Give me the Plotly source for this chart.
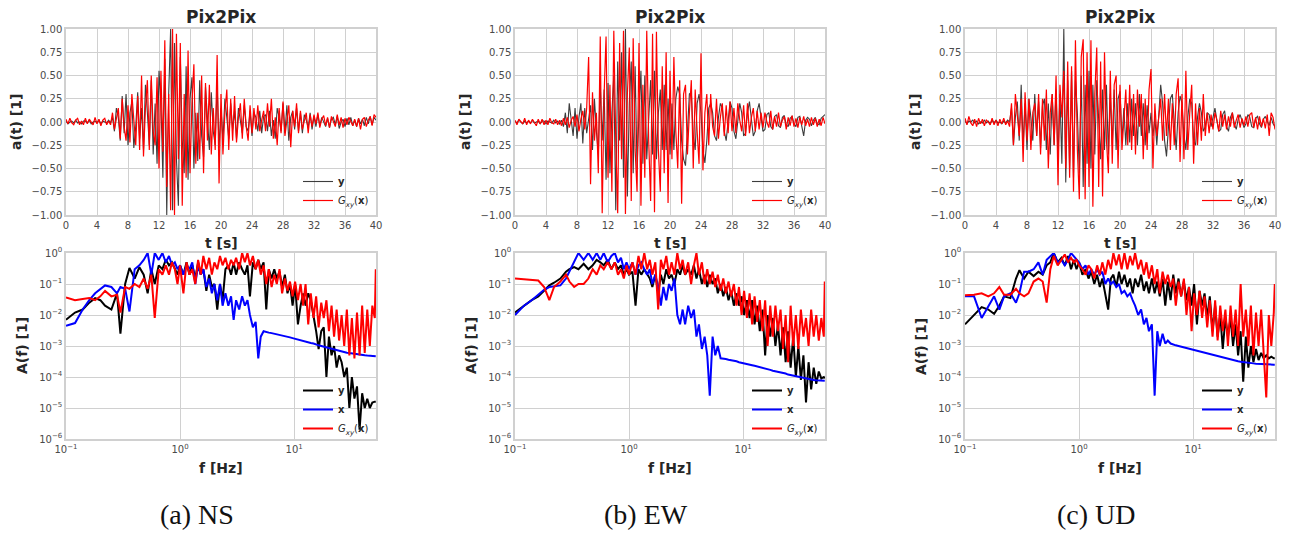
import numpy as np
import plotly.graph_objects as go

# ---------------------------------------------------------------------------
# Acceleration records, sampled every DT seconds over 0..40 s (normalised)
# ---------------------------------------------------------------------------
DT = 0.25

NS_Y = [0.01, -0.02, 0.00, 0.01, -0.01, 0.02, -0.01, 0.00,
        -0.02, 0.01, 0.01, -0.01, 0.02, -0.02, 0.00, 0.01,
        -0.01, 0.02, -0.02, 0.01, 0.00, -0.01, 0.02, -0.01,
        0.05, -0.10, 0.15, 0.05, -0.20, 0.28, -0.12, 0.30,
        -0.25, 0.10, 0.22, -0.28, -0.05, 0.32, -0.18, 0.15,
        -0.30, 0.40, 0.10, -0.25, 0.45, -0.35, 0.20, -0.45,
        0.55, 0.20, -0.60, 0.68, -1.00, 0.30, 1.00, -0.95,
        0.85, -0.40, -0.90, 0.70, -0.20, -0.55, 0.60, -0.62,
        0.25, 0.48, -0.50, 0.10, -0.42, 0.45, -0.15, -0.38,
        0.38, 0.05, -0.30, 0.32, -0.10, -0.25, 0.40, -0.28,
        0.15, -0.20, 0.25, 0.05, -0.18, 0.20, -0.08, 0.12,
        -0.18, 0.15, 0.02, -0.12, 0.18, -0.05, -0.10, 0.12,
        -0.15, 0.10, 0.05, -0.10, 0.12, -0.12, 0.06, 0.08,
        -0.10, 0.12, -0.15, 0.02, -0.18, 0.15, 0.05, -0.10,
        0.20, -0.12, 0.18, -0.20, 0.05, 0.12, -0.08, 0.15,
        -0.10, 0.10, -0.12, 0.08, 0.02, -0.06, 0.10, -0.08,
        0.06, -0.05, 0.08, -0.04, 0.05, 0.00, -0.05, 0.04,
        -0.06, 0.03, 0.05, -0.03, 0.06, -0.07, 0.00, 0.03,
        -0.05, 0.04, -0.03, 0.05, -0.04, 0.02, -0.05, 0.04,
        -0.02, 0.03, -0.04, 0.05, -0.02, 0.06, -0.03, 0.05,
        0.02]

NS_G = [0.03, -0.02, 0.04, -0.01, -0.03, 0.02, 0.04, -0.03,
        0.01, -0.03, 0.04, -0.02, 0.03, 0.00, -0.03, 0.05,
        -0.02, 0.03, -0.04, 0.02, 0.04, -0.03, 0.01, -0.03,
        0.10, -0.08, 0.02, 0.15, -0.18, 0.25, -0.05, -0.20,
        0.18, -0.22, 0.30, 0.05, -0.25, 0.28, -0.30, 0.50,
        -0.37, 0.15, 0.45, -0.30, 0.50, -0.10, -0.25, 0.48,
        -0.50, 0.55, -0.32, 0.88, -0.70, 0.30, -0.95, 1.00,
        -1.00, 0.95, -0.40, 0.85, -0.90, 0.30, -0.60, 0.77,
        -0.55, 0.20, 0.62, -0.45, 0.10, -0.40, 0.50, -0.55,
        0.42, -0.20, 0.40, -0.35, 0.15, -0.30, 0.72, -0.66,
        0.30, -0.35, 0.10, 0.35, -0.30, 0.25, -0.20, 0.28,
        -0.22, 0.05, 0.20, -0.18, 0.25, -0.05, -0.20, 0.18,
        -0.12, 0.15, -0.08, 0.18, -0.10, 0.02, 0.12, -0.10,
        0.20, -0.05, 0.25, -0.18, 0.05, -0.25, 0.15, -0.12,
        0.22, -0.15, 0.05, 0.18, -0.27, 0.12, -0.05, 0.20,
        -0.12, 0.12, -0.08, 0.02, 0.10, -0.12, 0.08, -0.05,
        0.08, -0.02, 0.10, -0.06, 0.03, 0.07, -0.04, 0.05,
        -0.06, 0.06, 0.01, -0.05, 0.08, -0.03, 0.05, -0.06,
        0.04, -0.03, 0.05, 0.00, -0.04, 0.03, -0.05, 0.04,
        -0.08, 0.03, 0.05, -0.05, 0.02, 0.06, -0.04, 0.08,
        0.05]

EW_Y = [0.01, -0.01, 0.02, 0.00, -0.02, 0.01, -0.01, 0.01,
        -0.01, 0.02, -0.01, 0.00, 0.01, -0.02, 0.01, 0.01,
        -0.02, 0.01, 0.00, -0.01, 0.02, -0.01, 0.01, -0.02,
        0.02, -0.05, 0.10, -0.12, 0.20, 0.05, -0.15, 0.15,
        -0.18, 0.05, 0.20, -0.23, 0.15, -0.12, 0.02, 0.18,
        -0.30, 0.25, -0.10, -0.35, 0.40, -0.20, 0.35, -0.62,
        0.42, -0.55, 0.10, 0.50, -0.95, 0.65, -0.20, 0.75,
        -0.60, 1.00, -0.80, 0.20, 0.65, -0.55, 0.60, -0.50,
        0.10, 0.55, -0.45, 0.50, -0.40, 0.05, 0.45, -0.35,
        0.55, -0.40, 0.10, 0.35, -0.30, 0.40, -0.30, 0.25,
        -0.35, 0.20, -0.30, 0.25, 0.38, 0.30, -0.20, -0.40,
        -0.47, -0.10, 0.30, 0.32, -0.15, -0.30, 0.20, 0.30,
        0.10, -0.30, -0.44, -0.20, 0.15, 0.20, 0.10, -0.15,
        -0.20, 0.05, 0.20, 0.15, -0.10, -0.20, 0.05, 0.22,
        0.15, -0.10, -0.18, 0.05, 0.20, 0.10, -0.15, -0.12,
        0.10, 0.22, 0.05, -0.15, -0.10, 0.12, 0.20, 0.05,
        -0.10, -0.08, 0.08, 0.10, -0.05, -0.08, 0.06, 0.08,
        -0.04, -0.06, 0.05, 0.07, -0.03, -0.05, 0.04, 0.06,
        -0.02, -0.05, 0.05, 0.06, -0.06, -0.15, 0.02, 0.05,
        0.03, -0.04, 0.02, 0.05, -0.02, -0.03, 0.04, 0.06,
        0.08]

EW_G = [0.02, -0.03, 0.03, 0.00, -0.02, 0.04, -0.03, 0.02,
        -0.02, 0.03, -0.01, -0.04, 0.03, -0.02, 0.03, -0.03,
        0.02, -0.03, 0.04, -0.01, -0.02, 0.03, -0.03, 0.02,
        -0.04, 0.04, -0.03, 0.05, -0.06, 0.02, 0.06, -0.05,
        0.08, -0.10, 0.03, 0.12, -0.08, 0.15, 0.70, -0.67,
        0.32, -0.20, 0.10, -0.55, 0.92, -0.98, 0.30, 0.92,
        -0.60, 0.40, -0.75, 0.98, -0.20, -0.98, 0.85, -0.40,
        0.98, -0.99, 0.30, 0.80, -0.85, 0.90, -0.30, -0.75,
        0.85, -0.90, 0.40, -0.60, 0.98, -0.20, -0.85, 0.95,
        -0.97, 0.97, -0.30, -0.75, 0.60, -0.55, 0.75, -0.87,
        0.55, -0.40, 0.70, -0.10, -0.50, 0.45, -0.88, 0.30,
        0.40, -0.35, 0.10, 0.45, -0.50, 0.35, -0.10, -0.45,
        0.74, -0.52, 0.10, 0.30, -0.25, 0.30, -0.05, -0.15,
        0.25, -0.18, 0.05, 0.20, -0.15, 0.18, -0.12, 0.22,
        -0.10, 0.15, -0.12, 0.20, 0.02, -0.10, 0.18, -0.15,
        0.20, -0.12, 0.05, 0.15, -0.10, 0.12, -0.08, 0.10,
        -0.06, 0.10, 0.00, -0.06, 0.12, -0.08, 0.06, -0.05,
        0.10, -0.05, 0.02, 0.06, -0.08, 0.05, -0.04, 0.07,
        -0.05, 0.04, -0.06, 0.05, -0.03, 0.06, -0.04, 0.03,
        -0.05, 0.05, -0.03, 0.04, -0.05, 0.03, -0.04, 0.05,
        -0.02]

UD_Y = [0.01, -0.02, 0.01, 0.00, 0.02, -0.01, 0.01, -0.02,
        0.00, -0.01, 0.02, -0.01, 0.01, -0.02, 0.02, -0.01,
        0.02, -0.01, 0.00, -0.02, 0.01, -0.01, 0.02, 0.00,
        0.15, -0.25, 0.05, 0.22, -0.20, 0.40, -0.25, 0.20,
        -0.30, 0.25, 0.05, -0.20, 0.30, -0.15, 0.22, -0.28,
        0.18, 0.25, -0.30, 0.20, -0.35, 0.30, -0.25, 0.35,
        -0.40, 0.30, -0.45, 1.00, -0.65, 0.45, -0.50, 0.55,
        -0.60, 0.45, 0.10, -0.55, 0.50, -0.70, 0.40, -0.45,
        0.55, -0.50, 0.40, -0.35, 0.45, 0.05, -0.40, 0.35,
        -0.30, 0.40, -0.35, 0.30, -0.25, 0.35, -0.30, 0.25,
        0.33, -0.20, 0.15, -0.25, 0.20, -0.22, 0.25, -0.15,
        0.20, -0.25, 0.30, -0.15, 0.20, -0.25, 0.18, -0.12,
        0.10, -0.15, 0.05, -0.25, 0.15, 0.40, 0.20, -0.20,
        -0.37, -0.10, 0.25, 0.30, -0.05, -0.30, 0.10, 0.28,
        0.20, -0.15, -0.30, 0.05, 0.25, 0.20, -0.20, -0.25,
        0.05, 0.20, 0.10, -0.10, -0.05, 0.10, 0.08, -0.05,
        0.05, 0.15, 0.02, -0.10, -0.08, 0.08, 0.12, -0.05,
        -0.10, 0.05, 0.10, -0.02, -0.08, 0.03, 0.08, 0.02,
        -0.06, -0.02, 0.08, 0.05, -0.05, -0.06, 0.04, 0.06,
        -0.02, -0.06, 0.03, 0.06, 0.00, -0.04, 0.05, -0.02,
        -0.05]

UD_G = [0.04, -0.03, 0.06, -0.01, -0.04, 0.03, -0.05, 0.04,
        -0.02, 0.03, -0.04, 0.02, 0.00, -0.03, 0.04, -0.03,
        0.02, -0.04, 0.03, -0.02, 0.04, -0.03, 0.01, -0.05,
        0.20, -0.25, 0.30, 0.05, -0.15, 0.25, -0.43, 0.32,
        -0.20, 0.25, -0.30, 0.10, 0.20, -0.15, 0.30, -0.35,
        0.25, -0.20, 0.35, -0.50, 0.10, 0.30, -0.25, 0.50,
        -0.68, 0.40, 0.05, 0.55, -0.50, 0.65, -0.60, 0.60,
        -0.75, 0.88, -0.30, -0.83, 0.70, 0.89, -0.83, 0.75,
        -0.70, 0.88, -0.91, 0.30, 0.80, -0.70, 0.65, -0.80,
        0.75, -0.20, -0.55, 0.55, -0.45, 0.40, 0.50, -0.50,
        0.40, -0.30, 0.05, 0.35, -0.25, 0.40, -0.30, 0.30,
        -0.35, 0.35, -0.05, 0.30, -0.40, 0.25, -0.30, 0.35,
        0.57, -0.50, 0.20, -0.15, 0.05, 0.25, -0.20, 0.30,
        -0.15, 0.25, -0.30, 0.20, -0.25, 0.30, 0.47, -0.43,
        0.30, -0.40, 0.55, -0.30, 0.10, 0.40, -0.45, 0.20,
        -0.25, 0.15, -0.20, 0.30, -0.15, 0.10, -0.12, 0.08,
        -0.08, 0.10, 0.02, -0.10, 0.12, -0.05, 0.08, -0.08,
        0.06, -0.05, 0.10, -0.06, 0.02, 0.08, -0.06, 0.04,
        -0.04, 0.06, -0.05, 0.08, 0.10, -0.06, 0.05, -0.08,
        0.06, -0.05, 0.04, -0.07, 0.08, -0.15, 0.10, 0.05,
        -0.08]

# ---------------------------------------------------------------------------
# Fourier amplitude spectra on a common frequency grid [Hz]
# ---------------------------------------------------------------------------
FREQ = [0.10, 0.12, 0.14, 0.16, 0.18, 0.20, 0.22, 0.25, 0.28, 0.30,
        0.33, 0.36, 0.40, 0.44, 0.48, 0.52, 0.56, 0.60, 0.65, 0.70,
        0.75, 0.80, 0.85, 0.90, 0.95, 1.00, 1.07, 1.14, 1.21, 1.28,
        1.36, 1.44, 1.52, 1.60, 1.70, 1.80, 1.90, 2.00, 2.12, 2.24,
        2.36, 2.50, 2.65, 2.80, 2.95, 3.10, 3.30, 3.50, 3.70, 3.90,
        4.10, 4.35, 4.60, 4.85, 5.10, 5.40, 5.70, 6.00, 6.35, 6.70,
        7.05, 7.45, 7.85, 8.30, 8.75, 9.20, 9.70, 10.2, 10.8, 11.4,
        12.0, 12.6, 13.3, 14.0, 14.8, 15.6, 16.4, 17.3, 18.2, 19.2,
        20.2, 21.3, 22.4, 23.6, 24.8, 26.1, 27.5, 29.0, 30.5, 32.1,
        33.8, 35.6, 37.5, 39.5, 41.6, 43.8, 46.1, 48.5, 51.0, 52.0]

NS_AY = [7e-3, 1.2e-2, 1.5e-2, 2.5e-2, 3.5e-2, 3e-2, 2e-2, 1.5e-2, 5e-2, 2.5e-3,
         1e-1, 3.3e-1, 1.5e-1, 3.5e-1, 2e-1, 5e-2, 3e-1, 1e-1, 4e-1, 3e-1,
         6e-1, 4e-1, 5e-1, 3e-1, 2e-1, 4e-1, 2e-1, 5e-1, 2e-1, 4e-1,
         1.5e-1, 5e-1, 2e-1, 3e-1, 6e-2, 2e-1, 8e-2, 1e-1, 1.5e-2, 1e-1,
         3e-2, 3e-1, 4e-1, 2e-1, 5e-1, 2e-1, 5e-1, 3e-1, 2e-1, 4e-1,
         4e-2, 5e-1, 3e-1, 6e-1, 3e-1, 5e-1, 1.5e-2, 3e-1, 1.5e-1, 3e-1,
         1.5e-1, 2.5e-1, 8e-2, 2e-1, 5e-2, 1e-1, 2e-2, 1e-1, 5e-3, 2e-2,
         5e-2, 2e-2, 5e-2, 3e-2, 1e-2, 3e-3, 8e-4, 3e-3, 4e-3, 1e-4,
         2e-3, 5e-4, 1e-3, 2e-4, 5e-4, 3e-4, 1e-4, 2e-4, 1e-5, 1e-4,
         2e-5, 5e-5, 2e-6, 3e-5, 1e-5, 2e-5, 1e-5, 1.5e-5, 1.6e-5, 1.6e-5]

NS_AX = [4.5e-3, 5.5e-3, 1.5e-2, 3e-2, 5e-2, 7e-2, 9e-2, 8e-2, 5e-2, 8e-2,
         7e-2, 1.3e-2, 3e-1, 4e-1, 6e-1, 1.0, 2e-1, 1.0, 6e-1, 1.0,
         5e-1, 8e-1, 4e-1, 5e-1, 3e-1, 4e-1, 2e-1, 4e-1, 3e-1, 5e-1,
         1e-1, 4e-1, 2e-1, 3e-1, 8e-2, 1.5e-1, 5e-2, 1e-1, 3e-2, 1e-1,
         2e-2, 5e-2, 2e-2, 4e-2, 7e-3, 3e-2, 1.5e-2, 4e-2, 2e-2, 3e-2,
         1e-2, 4e-3, 6e-3, 4e-4, 2e-3, 3e-3, 2.8e-3, 2.7e-3, 2.6e-3, 2.5e-3,
         2.4e-3, 2.3e-3, 2.2e-3, 2.1e-3, 2e-3, 1.9e-3, 1.8e-3, 1.7e-3, 1.6e-3, 1.5e-3,
         1.45e-3, 1.4e-3, 1.3e-3, 1.25e-3, 1.2e-3, 1.1e-3, 1.05e-3, 1e-3, 9.5e-4, 9e-4,
         8.5e-4, 8e-4, 7.7e-4, 7.3e-4, 7e-4, 6.7e-4, 6.4e-4, 6.1e-4, 5.9e-4, 5.7e-4,
         5.5e-4, 5.3e-4, 5.2e-4, 5.1e-4, 5e-4, 4.9e-4, 4.8e-4, 4.7e-4, 4.7e-4, 4.7e-4]

NS_AG = [3.7e-2, 3e-2, 3.3e-2, 3.5e-2, 3e-2, 4e-2, 6e-2, 4e-2, 4.5e-2, 1.2e-2,
         8e-2, 7e-2, 1e-1, 8e-2, 1.5e-1, 7e-2, 2e-1, 8e-3, 3e-1, 2e-1,
         4e-1, 2e-1, 5e-1, 3e-1, 1e-1, 4e-1, 5e-2, 5e-1, 2e-1, 3e-1,
         1e-1, 6e-1, 2e-1, 8e-1, 3e-1, 7e-1, 2e-1, 5e-1, 3e-1, 8e-1,
         4e-1, 7e-1, 3e-1, 6e-1, 4e-1, 7e-1, 3e-1, 1.0, 5e-1, 1.0,
         4e-1, 8e-1, 3e-1, 6e-1, 2e-1, 4e-1, 1e-1, 3e-1, 8e-2, 2e-1,
         1e-1, 3e-1, 5e-2, 1.5e-1, 6e-2, 1.2e-1, 4e-2, 1.2e-1, 3e-2, 1e-1,
         2e-2, 1e-1, 5e-3, 5e-2, 8e-3, 4e-2, 4e-3, 2.5e-2, 8e-3, 3e-2,
         3e-3, 2e-2, 2e-3, 1.5e-2, 1.5e-3, 1e-2, 1e-3, 1.5e-2, 5e-4, 8e-3,
         4e-4, 1.2e-2, 5e-4, 2e-2, 6e-4, 1.5e-2, 1e-3, 2e-2, 8e-3, 3e-1]

EW_AY = [1.2e-2, 2e-2, 3e-2, 4e-2, 6e-2, 9e-2, 1.1e-1, 1.5e-1, 2.5e-1, 3e-1,
         3.5e-1, 3e-1, 4.5e-1, 3e-1, 4e-1, 6e-1, 5e-1, 4e-1, 6e-1, 3e-1,
         5e-1, 3e-1, 4e-1, 2e-1, 3e-1, 2e-1, 2.5e-1, 2e-2, 3e-1, 2e-1,
         3e-1, 2e-1, 1.5e-1, 8e-2, 2e-1, 5e-2, 2e-1, 1e-1, 3e-1, 1.5e-1,
         2e-1, 1e-1, 3e-1, 2e-1, 4e-1, 2e-1, 3e-1, 2e-1, 4e-1, 1.5e-1,
         3e-1, 1e-1, 2e-1, 8e-2, 2e-1, 1e-1, 1.5e-1, 5e-2, 1e-1, 4e-2,
         8e-2, 3e-2, 6e-2, 2e-2, 5e-2, 2e-2, 4e-2, 1e-2, 3e-2, 8e-3,
         3e-2, 5e-3, 2e-2, 3e-3, 1.5e-2, 5e-4, 1e-2, 2e-3, 8e-3, 1e-3,
         5e-3, 5e-4, 4e-3, 3e-4, 3e-3, 2e-4, 2e-3, 1e-4, 1e-3, 8e-5,
         5e-4, 1.5e-5, 3e-4, 4e-5, 2e-4, 6e-5, 1.5e-4, 9e-5, 1e-4, 9e-5]

EW_AX = [1e-2, 2e-2, 3e-2, 4.5e-2, 6.5e-2, 8e-2, 8.5e-2, 9e-2, 1.5e-1, 2.5e-1,
         5e-1, 1.0, 6e-1, 1.0, 6e-1, 1.0, 6e-1, 1.0, 5e-1, 8e-1,
         1.0, 5e-1, 7e-1, 3e-1, 5e-1, 3e-1, 5e-1, 2e-1, 4e-1, 5e-1,
         3e-1, 2e-1, 3e-1, 1e-1, 2e-1, 8e-2, 2e-2, 8e-2, 3e-2, 1e-1,
         6e-2, 1.5e-1, 1e-2, 5e-3, 1.5e-2, 5e-3, 2e-2, 8e-3, 1.5e-2, 2e-3,
         5e-3, 8e-4, 2e-3, 5e-4, 2.5e-5, 2e-3, 5e-4, 1e-3, 4e-4, 4e-4,
         3.8e-4, 3.6e-4, 3.5e-4, 3.3e-4, 3.2e-4, 3e-4, 2.9e-4, 2.7e-4, 2.6e-4, 2.5e-4,
         2.4e-4, 2.3e-4, 2.2e-4, 2.1e-4, 2e-4, 1.9e-4, 1.8e-4, 1.7e-4, 1.6e-4, 1.55e-4,
         1.5e-4, 1.4e-4, 1.35e-4, 1.3e-4, 1.2e-4, 1.15e-4, 1.1e-4, 1.05e-4, 1e-4, 9.5e-5,
         9e-5, 8.8e-5, 8.5e-5, 8.2e-5, 8e-5, 7.8e-5, 7.7e-5, 7.6e-5, 7.5e-5, 7.5e-5]

EW_AG = [1.5e-1, 1.4e-1, 1.3e-1, 1.3e-1, 8e-2, 3e-2, 8e-2, 1.2e-1, 2e-1, 1.2e-1,
         8e-2, 1e-1, 1e-1, 1.5e-1, 3e-1, 2e-1, 4e-1, 3e-1, 5e-1, 3e-1,
         5e-1, 2e-1, 3e-1, 1.5e-1, 4e-1, 2e-1, 5e-1, 2e-1, 8e-1, 3e-1,
         1.0, 3e-1, 6e-1, 2e-1, 5e-1, 1.5e-2, 6e-1, 3e-1, 8e-1, 2e-1,
         5e-1, 2e-1, 1.0, 3e-1, 6e-1, 2e-1, 5e-1, 1e-1, 4e-1, 1.0,
         2e-1, 5e-1, 1e-1, 3e-1, 1e-1, 2.5e-1, 8e-2, 2e-1, 6e-2, 1.5e-1,
         5e-2, 1.2e-1, 4e-2, 1e-1, 2e-2, 8e-2, 1e-2, 6e-2, 8e-3, 5e-2,
         5e-3, 4e-2, 6e-3, 3e-2, 3e-3, 3e-2, 1e-3, 2e-2, 2e-3, 2e-2,
         3e-3, 1.5e-2, 8e-4, 1e-2, 3e-4, 2e-2, 1e-3, 1e-2, 8e-4, 1.5e-2,
         2e-3, 8e-3, 1e-3, 1.5e-2, 2e-3, 1e-2, 1.5e-3, 8e-3, 2e-3, 1.2e-1]

UD_AY = [5e-3, 1e-2, 1.8e-2, 1.5e-2, 1.1e-2, 2e-2, 4e-2, 3.5e-2, 1.5e-1, 2.8e-1,
         1.5e-1, 2.5e-1, 1.8e-1, 2.5e-1, 2e-1, 4e-1, 5e-1, 1.0, 5e-1, 7e-1,
         4e-1, 8e-1, 3e-1, 6e-1, 3e-1, 5e-1, 2e-1, 3e-1, 1.5e-1, 2.5e-1,
         1e-1, 2e-1, 8e-2, 1.5e-1, 5e-2, 1.5e-2, 1.5e-1, 2e-1, 8e-2, 2.5e-1,
         1e-1, 2e-1, 8e-2, 1.5e-1, 5e-2, 1.5e-1, 8e-2, 2e-1, 6e-2, 1.2e-1,
         5e-2, 1.5e-1, 5e-2, 1.2e-1, 4e-2, 1.5e-1, 2e-2, 1.2e-1, 3e-2, 2e-1,
         5e-2, 1.5e-1, 4e-2, 1.2e-1, 3e-2, 8e-2, 2e-2, 1e-1, 5e-3, 6e-2,
         2e-2, 5e-2, 8e-3, 4e-2, 3e-3, 2e-2, 2e-3, 1e-2, 8e-4, 8e-3,
         2e-3, 8e-3, 1e-3, 5e-3, 5e-4, 3e-3, 7e-5, 2e-3, 2e-4, 1e-3,
         3e-4, 8e-4, 3.5e-4, 6e-4, 4e-4, 5e-4, 4e-4, 4.5e-4, 4e-4, 4e-4]

UD_AX = [4e-2, 4e-2, 8e-3, 2e-2, 4e-2, 1.5e-2, 4e-2, 5e-2, 2.5e-2, 5e-2,
         2.5e-1, 2.5e-1, 3e-1, 5e-1, 2e-1, 6e-1, 8e-1, 1.0, 5e-1, 6e-1,
         4e-1, 6e-1, 1.0, 8e-1, 6e-1, 5e-1, 3e-1, 4e-1, 2e-1, 3e-1,
         2e-1, 3e-1, 2e-1, 2.5e-1, 1e-1, 1.5e-1, 1e-1, 1.2e-1, 8e-2, 1e-1,
         5e-2, 6e-2, 4e-2, 5e-2, 3e-2, 2e-2, 1e-2, 1.5e-2, 5e-3, 8e-3,
         3e-3, 5e-3, 2.5e-5, 3e-3, 1e-3, 2.5e-3, 1.2e-3, 1.5e-3, 1.2e-3, 1.1e-3,
         1.05e-3, 1e-3, 9.5e-4, 9e-4, 8.6e-4, 8.2e-4, 7.8e-4, 7.4e-4, 7e-4, 6.6e-4,
         6.3e-4, 6e-4, 5.7e-4, 5.4e-4, 5.1e-4, 4.9e-4, 4.6e-4, 4.4e-4, 4.2e-4, 4e-4,
         3.8e-4, 3.6e-4, 3.5e-4, 3.3e-4, 3.2e-4, 3.1e-4, 3e-4, 2.9e-4, 2.85e-4, 2.8e-4,
         2.75e-4, 2.7e-4, 2.65e-4, 2.6e-4, 2.6e-4, 2.55e-4, 2.55e-4, 2.5e-4, 2.5e-4, 2.5e-4]

UD_AG = [4.3e-2, 4.5e-2, 5e-2, 4e-2, 5e-2, 8e-2, 4.5e-2, 4.5e-2, 7e-2, 5e-2,
         4e-2, 5e-2, 1.2e-1, 1.5e-1, 1.2e-1, 2.5e-2, 3e-1, 8e-1, 4e-1, 6e-1,
         9e-1, 5e-1, 7e-1, 5e-1, 6e-1, 4e-1, 3e-1, 2e-1, 4e-1, 3e-1,
         1.5e-1, 4e-1, 2e-1, 5e-1, 2e-1, 6e-1, 3e-1, 1.0, 4e-1, 9e-1,
         3e-1, 1.0, 3e-1, 8e-1, 4e-1, 1.0, 3e-1, 6e-1, 2e-1, 5e-1,
         1.5e-1, 4e-1, 1e-1, 3e-1, 5e-2, 2.5e-1, 1e-1, 2e-1, 8e-2, 1.5e-1,
         2e-2, 1.2e-1, 4e-2, 1.5e-1, 1e-2, 8e-2, 3e-3, 5e-2, 1e-2, 6e-2,
         8e-3, 4e-2, 4e-3, 3e-2, 2e-3, 3e-2, 1.5e-3, 2e-2, 3e-3, 1.5e-2,
         1e-3, 2e-2, 2e-3, 1.5e-2, 1e-3, 1e-1, 2e-3, 1.5e-2, 1e-3, 2e-2,
         5e-4, 1.2e-2, 1e-3, 1.5e-2, 8e-4, 2.2e-5, 1e-2, 1e-3, 1.2e-2, 1e-1]

CAPTIONS = ["(a) NS", "(b) EW", "(c) UD"]
PANELS = [
    (NS_Y, NS_G, NS_AY, NS_AX, NS_AG),
    (EW_Y, EW_G, EW_AY, EW_AX, EW_AG),
    (UD_Y, UD_G, UD_AY, UD_AX, UD_AG),
]

# ---------------------------------------------------------------------------
# Layout (pixel geometry of the 1291 x 533 canvas)
# ---------------------------------------------------------------------------
W, H = 1291, 533
COLS = [(66, 376), (515, 825), (965, 1275)]
TOP = (29, 215)
BOT = (253, 439)

GRID = "#d0d0d0"
TICK_FONT = dict(family="DejaVu Sans", size=10, color="#4a4a4a")
LABEL_FONT = dict(family="DejaVu Sans", size=14, color="#262626")
G_LABEL = "<i>G</i><sub><i>xy</i></sub>(<b>x</b>)"


def fx(p):
    return p / W


def fy(p):
    return 1 - p / H


def sup_labels(exps):
    return ["10<sup>%s</sup>" % (str(e).replace("-", "\u2212")) for e in exps]


fig = go.Figure()
layout = dict(
    width=W, height=H, autosize=False,
    margin=dict(l=0, r=0, t=0, b=0, pad=0),
    paper_bgcolor="white", plot_bgcolor="white",
    showlegend=True,
    font=dict(family="DejaVu Sans", color="#262626"),
)
annotations = []

common_axis = dict(
    showgrid=True, gridcolor=GRID, gridwidth=1,
    zeroline=False, showline=True, mirror=True,
    linecolor=GRID, linewidth=1.5, ticks="",
    tickfont=TICK_FONT, automargin=False,
)

for i, (sig_y, sig_g, amp_y, amp_x, amp_g) in enumerate(PANELS):
    x0, x1 = COLS[i]
    top_idx = 2 * i + 1
    bot_idx = 2 * i + 2
    top_sfx = "" if top_idx == 1 else str(top_idx)
    bot_sfx = str(bot_idx)
    leg_top = "legend" if top_idx == 1 else "legend%d" % top_idx
    leg_bot = "legend%d" % bot_idx

    t = np.arange(len(sig_y)) * DT
    tg = np.arange(len(sig_g)) * DT

    # time histories
    fig.add_trace(go.Scatter(
        x=t, y=sig_y, mode="lines", name="<b>y</b>",
        line=dict(color="rgba(40,40,40,0.9)", width=1.1),
        xaxis="x" + top_sfx, yaxis="y" + top_sfx, legend=leg_top))
    fig.add_trace(go.Scatter(
        x=tg, y=sig_g, mode="lines", name=G_LABEL,
        line=dict(color="#ff0000", width=1.2),
        xaxis="x" + top_sfx, yaxis="y" + top_sfx, legend=leg_top))

    # spectra
    fig.add_trace(go.Scatter(
        x=FREQ, y=amp_y, mode="lines", name="<b>y</b>",
        line=dict(color="#000000", width=2),
        xaxis="x" + bot_sfx, yaxis="y" + bot_sfx, legend=leg_bot))
    fig.add_trace(go.Scatter(
        x=FREQ, y=amp_x, mode="lines", name="<b>x</b>",
        line=dict(color="#0000ff", width=2),
        xaxis="x" + bot_sfx, yaxis="y" + bot_sfx, legend=leg_bot))
    fig.add_trace(go.Scatter(
        x=FREQ, y=amp_g, mode="lines", name=G_LABEL,
        line=dict(color="#ff0000", width=2),
        xaxis="x" + bot_sfx, yaxis="y" + bot_sfx, legend=leg_bot))

    dom_x = [fx(x0), fx(x1)]
    layout["xaxis" + top_sfx] = dict(
        common_axis, domain=dom_x, anchor="y" + top_sfx, range=[0, 40],
        tickvals=list(range(0, 41, 4)))
    layout["yaxis" + top_sfx] = dict(
        common_axis, domain=[fy(TOP[1]), fy(TOP[0])], anchor="x" + top_sfx,
        range=[-1, 1], tickvals=[-1, -0.75, -0.5, -0.25, 0, 0.25, 0.5, 0.75, 1],
        tickformat=".2f")
    layout["xaxis" + bot_sfx] = dict(
        common_axis, domain=dom_x, anchor="y" + bot_sfx, type="log",
        range=[-1, 1.718], tickvals=[0.1, 1, 10], ticktext=sup_labels([-1, 0, 1]))
    layout["yaxis" + bot_sfx] = dict(
        common_axis, domain=[fy(BOT[1]), fy(BOT[0])], anchor="x" + bot_sfx,
        type="log", range=[-6, 0],
        tickvals=[1e-6, 1e-5, 1e-4, 1e-3, 1e-2, 1e-1, 1],
        ticktext=sup_labels([-6, -5, -4, -3, -2, -1, 0]))

    leg_common = dict(xanchor="left", yanchor="top", bgcolor="rgba(0,0,0,0)",
                      font=dict(family="DejaVu Sans", size=10, color="#262626"),
                      itemwidth=30, tracegroupgap=0)
    layout[leg_top] = dict(leg_common, x=fx(x1 - 78), y=fy(167))
    layout[leg_bot] = dict(leg_common, x=fx(x1 - 78), y=fy(376))

    cx = (x0 + x1) / 2
    annotations += [
        dict(text="<b>Pix2Pix</b>", x=fx(cx), y=fy(17), xref="paper", yref="paper",
             showarrow=False, font=dict(family="DejaVu Sans", size=17, color="#262626"),
             xanchor="center", yanchor="middle"),
        dict(text="<b>t [s]</b>", x=fx(cx), y=fy(243), xref="paper", yref="paper",
             showarrow=False, font=LABEL_FONT, xanchor="center", yanchor="middle"),
        dict(text="<b>f [Hz]</b>", x=fx(cx), y=fy(468), xref="paper", yref="paper",
             showarrow=False, font=LABEL_FONT, xanchor="center", yanchor="middle"),
        dict(text="<b>a(t) [1]</b>", x=fx(x0 - 50), y=fy((TOP[0] + TOP[1]) / 2),
             xref="paper", yref="paper", showarrow=False, textangle=-90,
             font=LABEL_FONT, xanchor="center", yanchor="middle"),
        dict(text="<b>A(f) [1]</b>", x=fx(x0 - 44), y=fy((BOT[0] + BOT[1]) / 2),
             xref="paper", yref="paper", showarrow=False, textangle=-90,
             font=LABEL_FONT, xanchor="center", yanchor="middle"),
        dict(text=CAPTIONS[i], x=fx(cx - 24), y=fy(514), xref="paper", yref="paper",
             showarrow=False, font=dict(family="Liberation Serif", size=28, color="#111111"),
             xanchor="center", yanchor="middle"),
    ]

layout["annotations"] = annotations
fig.update_layout(**layout)
# the page body keeps no default margin so the figure fills the window exactly
fig.write_html("out.html",
               post_script="document.body.style.margin='0';"
                           "document.body.style.overflow='hidden';")
